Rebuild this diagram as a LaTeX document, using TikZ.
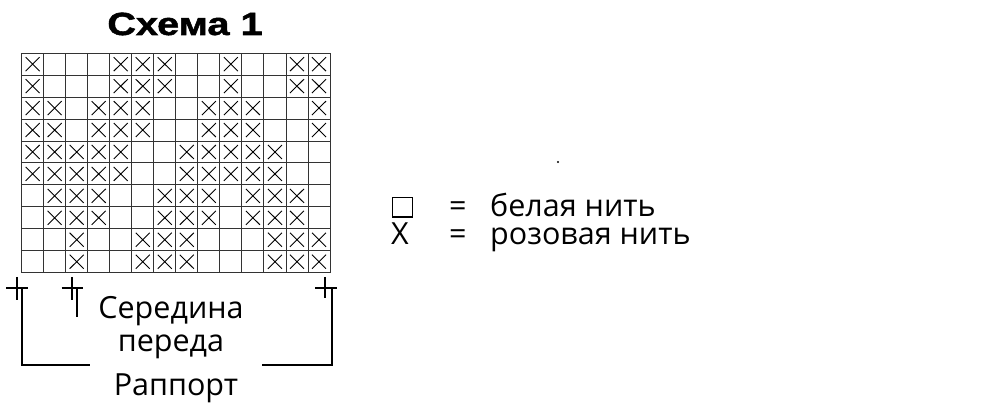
\documentclass[tikz,border=0pt]{standalone}
\usepackage{fontspec}
\setmainfont{Open Sans}
\newfontfamily\titlefont{Liberation Sans}[BoldFeatures={FakeStretch=1.24,FakeBold=1.6}]
\begin{document}
\begin{tikzpicture}[x=1pt,y=-1pt,
  gridline/.style={line width=0.9pt,draw=black!80},
  xmark/.style={line width=0.9pt,draw=black},
  tick/.style={line width=1.8pt,draw=black},
  lbl/.style={inner sep=0pt,anchor=base,font=\fontsize{30.5}{32}\selectfont},
  ]
\useasboundingbox[fill=white] (0,0) rectangle (1000,411);
\def\xo{21.6}\def\yo{53.2}\def\cw{22.03}\def\ch{21.95}
% crosses
\foreach \rowv [count=\r from 0] in {
  {1,0,0,0,1,1,1,0,0,1,0,0,1,1},
  {1,0,0,0,1,1,1,0,0,1,0,0,1,1},
  {1,1,0,1,1,1,0,0,1,1,1,0,0,1},
  {1,1,0,1,1,1,0,0,1,1,1,0,0,1},
  {1,1,1,1,1,0,0,1,1,1,1,1,0,0},
  {1,1,1,1,1,0,0,1,1,1,1,1,0,0},
  {0,1,1,1,0,0,1,1,1,0,1,1,1,0},
  {0,1,1,1,0,0,1,1,1,0,1,1,1,0},
  {0,0,1,0,0,1,1,1,0,0,0,1,1,1},
  {0,0,1,0,0,1,1,1,0,0,0,1,1,1}}{
  \foreach \v [count=\c from 0] in \rowv {
    \ifnum\v=1
      \draw[xmark] (\xo+\c*\cw+4,\yo+\r*\ch+4) -- (\xo+\c*\cw+\cw-4,\yo+\r*\ch+\ch-4)
                   (\xo+\c*\cw+\cw-4,\yo+\r*\ch+4) -- (\xo+\c*\cw+4,\yo+\r*\ch+\ch-4);
    \fi
  }
}
% grid
\foreach \c in {0,...,14} \draw[gridline] (\xo+\c*\cw,\yo) -- (\xo+\c*\cw,\yo+10*\ch);
\foreach \r in {0,...,10} \draw[gridline] (\xo,\yo+\r*\ch) -- (\xo+14*\cw,\yo+\r*\ch);
% title
\node[inner sep=0pt,anchor=base] (title) at (185,35) {\titlefont\bfseries\fontsize{32}{34}\selectfont Схема 1};
% markers
\coordinate (lt) at (21.7,288); \coordinate (lb) at (21.7,365); \coordinate (le) at (90,365);
\coordinate (mt) at (77.3,288); \coordinate (mb) at (77.3,317);
\coordinate (rt) at (331.7,288); \coordinate (rb) at (331.7,365); \coordinate (re) at (261.7,365);
\draw[tick] (6,287.7) -- (28,287.7) (16.7,277) -- (16.7,300);
\draw[tick] (61.7,287.7) -- (83.3,287.7) (71.7,277) -- (71.7,300);
\draw[tick] (315,287.7) -- (336.7,287.7) (325,277) -- (325,298);
\draw[tick] (lt) -- (lb) -- (le);
\draw[tick] (mt) -- (mb);
\draw[tick] (rt) -- (rb) -- (re);
\node[lbl] (ser) at (171,318) {Середина};
\node[lbl] (per) at (171,351) {переда};
\node[lbl] (rap) at (176,395) {Раппорт};
% legend
\fill (558,162) circle (1.2);
\draw[line width=1.4pt] (392.5,197.5) rectangle (412.5,217);
\node[lbl,anchor=base west] (eq1) at (449,217) {=};
\node[lbl,anchor=base west] (t1) at (490,217) {белая нить};
\node[lbl,anchor=base west] (xs) at (391,245) {X};
\node[lbl,anchor=base west] (eq2) at (449,245) {=};
\node[lbl,anchor=base west] (t2) at (490,245) {розовая нить};
\end{tikzpicture}
\end{document}
